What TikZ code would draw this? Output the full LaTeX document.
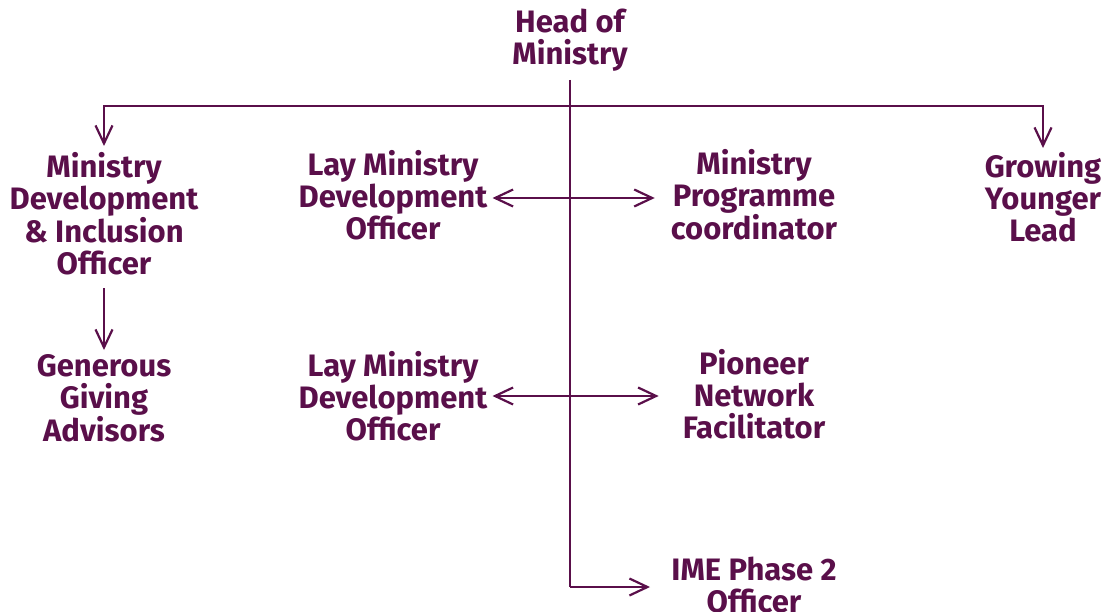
\documentclass[tikz,border=0pt]{standalone}
\usepackage{fontspec}
\setmainfont{Fira Sans}
\usetikzlibrary{arrows.meta}
\definecolor{plum}{HTML}{5A0F4A}
\tikzset{
  lbl/.style={text=plum, align=center, inner sep=2pt, font=\fontsize{31}{32}\selectfont\bfseries},
  arr/.style={draw=plum, line width=2.3pt, -{Straight Barb[length=18pt,width=17pt,line width=2.2pt]}},
  darr/.style={draw=plum, line width=2.3pt, {Straight Barb[length=18pt,width=17pt,line width=2.2pt]}-{Straight Barb[length=18pt,width=17pt,line width=2.2pt]}},
  ln/.style={draw=plum, line width=2.3pt}
}
\begin{document}
\begin{tikzpicture}[x=1pt,y=-1pt]
\useasboundingbox (0,0) rectangle (1107,612);
\node[lbl] (head) at (570,40) {Head of\\Ministry};
\node[lbl] (mdio) at (104,214) {Ministry\\Development\\\& Inclusion\\Officer};
\node[lbl] (gga) at (104,398) {Generous\\Giving\\Advisors};
\node[lbl] (lay1) at (393,195) {Lay Ministry\\Development\\Officer};
\node[lbl] (mpc) at (754,195) {Ministry\\Programme\\coordinator};
\node[lbl] (gyl) at (1043,197) {Growing\\Younger\\Lead};
\node[lbl] (lay2) at (393,396) {Lay Ministry\\Development\\Officer};
\node[lbl] (pnf) at (754,394) {Pioneer\\Network\\Facilitator};
\node[lbl] (ime) at (754,585) {IME Phase 2\\Officer};
\coordinate (j) at (570,106);
\coordinate (trunktop) at (570,80);
\coordinate (trunkbot) at (570,587);
\coordinate (imeend) at (650,587);
\coordinate (mdl) at (104,288);
\coordinate (ggtop) at (104,350);
\coordinate (mdtop) at (104,146);
\coordinate (gytop) at (1043,148);
\draw[ln] (trunktop) -- (trunkbot);
\draw[arr] (trunkbot) -- (imeend);
\draw[arr] (j) -| (mdtop);
\draw[arr] (j) -| (gytop);
\draw[arr] (mdl) -- (ggtop);
\draw[darr] ([xshift=3pt]lay1.east |- 0,198) -- ([xshift=-14pt]mpc.west |- 0,198);
\draw[darr] ([xshift=3pt]lay2.east |- 0,396) -- ([xshift=-22pt]pnf.west |- 0,396);
\end{tikzpicture}
\end{document}
